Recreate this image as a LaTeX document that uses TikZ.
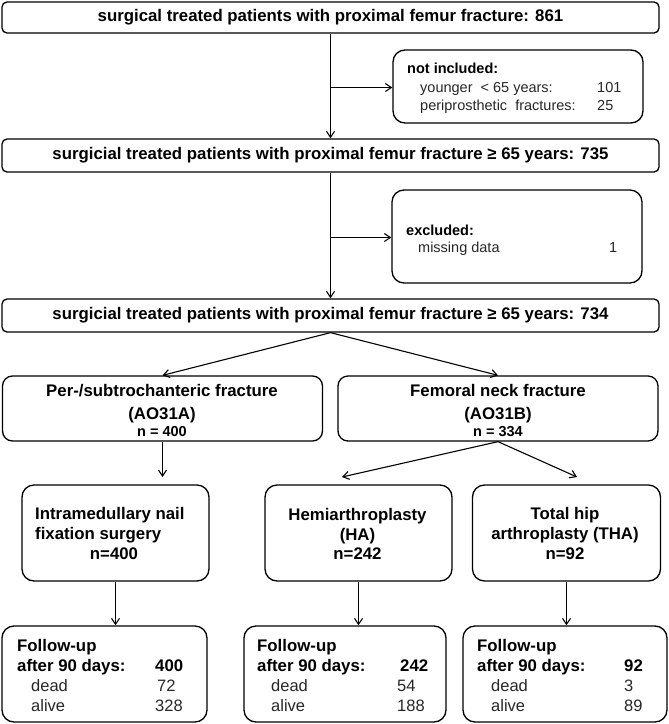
\documentclass[tikz,border=0pt]{standalone}
\usepackage{fontspec}
\setmainfont{Liberation Sans}
\usetikzlibrary{arrows.meta}
\begin{document}
\begin{tikzpicture}[x=1pt,y=-1pt,
  boxline/.style={draw=black, line width=1.3pt, inner sep=0pt},
  longbox/.style={boxline, rounded corners=5pt, font=\fontsize{16.8}{20}\selectfont\bfseries},
  roundbox/.style={boxline, rounded corners=12pt},
  bt/.style={inner sep=0pt, font=\fontsize{16.8}{20}\selectfont\bfseries},
  nt/.style={inner sep=0pt, text=black!85, font=\fontsize{16.5}{20}\selectfont},
  sbt/.style={inner sep=0pt, font=\fontsize{14.5}{17}\selectfont\bfseries},
  snt/.style={inner sep=0pt, text=black!85, font=\fontsize{14.5}{17}\selectfont},
  arr/.style={-{Straight Barb[length=6pt,width=8pt,line width=1.1pt]}, line width=1.1pt}
]
\useasboundingbox (0,0) rectangle (669,724);

% long boxes
\node[longbox, minimum width=657pt, minimum height=31pt] (top) at (330.5,17.5)
  {surgical treated patients with proximal femur fracture: 861};
\node[longbox, minimum width=657pt, minimum height=33pt] (b) at (330.5,155.5)
  {surgicial treated patients with proximal femur fracture ≥ 65 years: 735};
\node[longbox, minimum width=657pt, minimum height=33pt] (c) at (330.5,315.5)
  {surgicial treated patients with proximal femur fracture ≥ 65 years: 734};

% side boxes
\node[roundbox, minimum width=250pt, minimum height=73pt] (ni) at (518,86.5) {};
\node[sbt, anchor=base west] (ni1) at (407,73) {not included:};
\node[snt, anchor=base west] (ni2) at (420,92) {younger \ < 65 years:};
\node[snt, anchor=base west] (ni3) at (597,92) {101};
\node[snt, anchor=base west] (ni4) at (420,110) {periprosthetic \ fractures:};
\node[snt, anchor=base west] (ni5) at (597,110) {25};

\node[roundbox, minimum width=250pt, minimum height=93pt] (ex) at (517,236.5) {};
\node[sbt, anchor=base west] (ex1) at (406,235) {excluded:};
\node[snt, anchor=base west] (ex2) at (418,252) {missing data};
\node[snt, anchor=base west] (ex3) at (609,252) {1};

% fracture type boxes
\node[roundbox, rounded corners=10pt, minimum width=320pt, minimum height=65pt] (per) at (162.5,408.5) {};
\node[bt, anchor=base] (per1) at (162,396) {Per-/subtrochanteric fracture};
\node[bt, anchor=base] (per2) at (162,419) {(AO31A)};
\node[sbt, anchor=base] (per3) at (162,436) {n = 400};

\node[roundbox, rounded corners=10pt, minimum width=320pt, minimum height=65pt] (fem) at (498,408.5) {};
\node[bt, anchor=base] (fem1) at (498,396) {Femoral neck fracture};
\node[bt, anchor=base] (fem2) at (498,419) {(AO31B)};
\node[sbt, anchor=base] (fem3) at (498,436) {n = 334};

% treatment boxes
\node[roundbox, minimum width=187pt, minimum height=96pt] (intra) at (115.5,533) {};
\node[bt, anchor=base west] (in1) at (35,519) {Intramedullary nail};
\node[bt, anchor=base west] (in2) at (35,539) {fixation surgery};
\node[bt, anchor=base] (in3) at (114,559) {n=400};

\node[roundbox, minimum width=187pt, minimum height=96pt] (hemi) at (358.5,533) {};
\node[bt, anchor=base] (he1) at (357.5,520) {Hemiarthroplasty};
\node[bt, anchor=base] (he2) at (357.5,540) {(HA)};
\node[bt, anchor=base] (he3) at (357.5,559) {n=242};

\node[roundbox, minimum width=188pt, minimum height=96pt] (tha) at (566.5,533) {};
\node[bt, anchor=base] (th1) at (565,519) {Total hip};
\node[bt, anchor=base] (th2) at (565,539) {arthroplasty (THA)};
\node[bt, anchor=base] (th3) at (565,559) {n=92};

% follow-up boxes
\node[roundbox, minimum width=205pt, minimum height=96pt] (f1) at (104.5,674) {};
\node[bt, anchor=base west] (f1a) at (17,651) {Follow-up};
\node[bt, anchor=base west] (f1b) at (17,671) {after 90 days:};
\node[bt, anchor=base west] (f1c) at (155,671) {400};
\node[nt, anchor=base west] (f1d) at (31,691) {dead};
\node[nt, anchor=base west] (f1e) at (157,691) {72};
\node[nt, anchor=base west] (f1f) at (31,711) {alive};
\node[nt, anchor=base west] (f1g) at (155,711) {328};

\node[roundbox, minimum width=202pt, minimum height=96pt] (f2) at (345,674) {};
\node[bt, anchor=base west] (f2a) at (257,651) {Follow-up};
\node[bt, anchor=base west] (f2b) at (257,671) {after 90 days:};
\node[bt, anchor=base west] (f2c) at (400,671) {242};
\node[nt, anchor=base west] (f2d) at (271,691) {dead};
\node[nt, anchor=base west] (f2e) at (397,691) {54};
\node[nt, anchor=base west] (f2f) at (271,711) {alive};
\node[nt, anchor=base west] (f2g) at (397,711) {188};

\node[roundbox, minimum width=204pt, minimum height=96pt] (f3) at (565,674) {};
\node[bt, anchor=base west] (f3a) at (477,651) {Follow-up};
\node[bt, anchor=base west] (f3b) at (477,671) {after 90 days:};
\node[bt, anchor=base west] (f3c) at (624,671) {92};
\node[nt, anchor=base west] (f3d) at (491,691) {dead};
\node[nt, anchor=base west] (f3e) at (624,691) {3};
\node[nt, anchor=base west] (f3f) at (491,711) {alive};
\node[nt, anchor=base west] (f3g) at (624,711) {89};

% connectors
\coordinate (j1) at (330.5,87.5);
\coordinate (j2) at (330.5,237.5);
\coordinate (pi) at (162.5,477);
\coordinate (hi) at (342,477);
\coordinate (ti) at (577,477);
\draw[arr] (top.south) -- (b.north);
\draw[arr] (j1) -- (j1 -| ni.west);
\draw[arr] (b.south) -- (c.north);
\draw[arr] (j2) -- (j2 -| ex.west);
\draw[arr] (c.south) -- (per.north);
\draw[arr] (c.south) -- (fem.north);
\draw[arr] (per.south) -- (pi);
\draw[arr] (fem.south) -- (hi);
\draw[arr] (fem.south) -- (ti);
\draw[arr] (intra.south) -- (intra.south |- f1.north);
\draw[arr] (hemi.south) -- (hemi.south |- f2.north);
\draw[arr] (tha.south) -- (tha.south |- f3.north);
\end{tikzpicture}
\end{document}
